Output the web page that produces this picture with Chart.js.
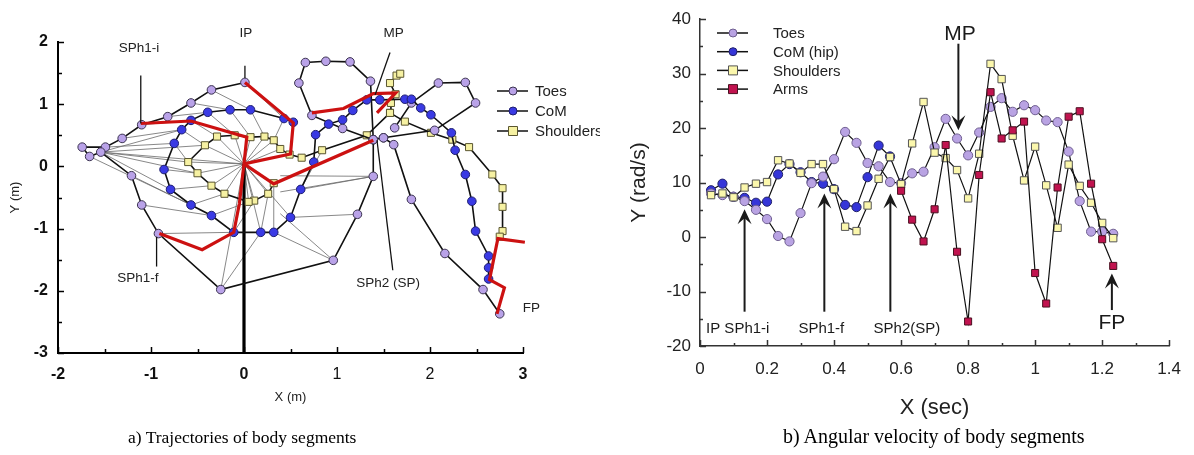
<!DOCTYPE html>
<html>
<head>
<meta charset="utf-8">
<script src="https://cdn.jsdelivr.net/npm/chart.js@4"></script>
<style>
  body { margin: 0; background: #fff; width: 1194px; height: 455px; position: relative; overflow: hidden; }
  #trajChart { position: absolute; left: 0; top: 0; }
  #velChart { position: absolute; left: 600px; top: 0; }
  .caption { position: absolute; font-family: "Liberation Serif", "Times New Roman", serif; color: #000; white-space: nowrap; }
</style>
</head>
<body>
<canvas id="trajChart" width="600" height="455"></canvas>
<canvas id="velChart" width="594" height="455"></canvas>
<div class="caption" style="left:128px; top:427px; font-size:17.5px">a) Trajectories of body segments</div>
<div class="caption" style="left:783px; top:425px; font-size:20px">b) Angular velocity of body segments</div>
<script>
// ---------- panel a: trajectories, [x, y] in m ----------
const toesPath1 = [[0.01,1.35],[-0.35,1.23],[-0.57,1.02],[-0.82,0.80],[-1.10,0.67],[-1.31,0.45],[-1.49,0.31],[-1.74,0.31],[-1.66,0.16],[-1.54,0.23],[-1.21,-0.15],[-1.10,-0.62],[-0.92,-1.08],[-0.25,-1.98],[0.96,-1.51],[1.22,-0.77],[1.39,-0.16],[1.39,0.43]];
const toesPath2 = [[1.39,0.43],[1.36,1.37],[1.14,1.68],[0.88,1.69],[0.66,1.67],[0.59,1.34],[0.73,0.82],[1.06,0.61],[1.39,0.43],[1.50,0.46],[1.61,0.35],[1.80,-0.53],[2.16,-1.40],[2.57,-1.98],[2.75,-2.37]];
const toesPath3 = [[1.50,0.46],[2.05,0.58],[2.49,1.02],[2.38,1.35],[2.09,1.34],[1.80,1.02],[1.62,0.62]];
const comPath = [[0.53,0.71],[0.43,0.77],[0.07,0.91],[-0.15,0.91],[-0.39,0.87],[-0.57,0.74],[-0.67,0.59],[-0.75,0.37],[-0.86,-0.05],[-0.79,-0.37],[-0.57,-0.62],[-0.35,-0.79],[-0.11,-1.06],[0.18,-1.06],[0.32,-1.06],[0.50,-0.82],[0.61,-0.37],[0.75,0.07],[0.77,0.51],[0.91,0.68],[1.06,0.75],[1.17,0.90],[1.32,1.07],[1.46,1.07],[1.73,1.08],[1.80,1.08],[1.90,0.94],[2.01,0.83],[2.23,0.54],[2.27,0.26],[2.38,-0.13],[2.45,-0.56],[2.49,-1.04],[2.63,-1.44],[2.63,-1.63],[2.63,-1.81]];
const shoulderPath1 = [[0.32,-0.27],[0.26,-0.44],[0.11,-0.55],[0.05,-0.57],[-0.21,-0.44],[-0.35,-0.31],[-0.50,-0.11],[-0.60,0.07],[-0.42,0.34],[-0.29,0.48],[-0.10,0.50],[0.07,0.47],[0.22,0.48],[0.32,0.42],[0.39,0.28],[0.49,0.19],[0.62,0.14],[0.84,0.26],[1.32,0.50],[1.57,0.86],[1.58,1.02],[1.63,1.16],[1.57,1.34],[1.64,1.46],[1.68,1.49]];
const shoulderPath2 = [[1.57,0.86],[1.73,0.72],[2.01,0.54],[2.24,0.43],[2.42,0.31],[2.67,-0.13],[2.78,-0.35],[2.78,-0.65],[2.78,-1.04],[2.75,-1.13]];
// highlighted body poses (red)
const poses = [
  [[-1.11,0.69],[-0.57,0.73],[0.03,0.47],[0.0,0.04]],
  [[-0.91,-1.08],[-0.45,-1.34],[-0.11,-1.06],[-0.05,-0.6],[0.0,0.04]],
  [[0.01,1.35],[0.53,0.70],[0.50,0.20],[0.0,0.04]],
  [[0.0,0.04],[0.32,-0.28],[1.39,0.42]],
  [[0.73,0.86],[1.07,0.93],[1.39,1.17],[1.63,1.18],[1.43,0.86]],
  [[3.02,-1.22],[2.73,-1.16],[2.64,-1.82],[2.80,-1.95],[2.72,-2.37]]
];
const pivotLine = [[0.0,0.04],[0.0,-3.0]];
// thin segment links between segments of the same frame [x1, y1, x2, y2]
const links = [
  [0.01,1.35,0.43,0.77],[-0.35,1.23,0.07,0.91],[-0.57,1.02,-0.15,0.91],[-0.82,0.80,-0.39,0.87],
  [-1.10,0.67,-0.57,0.74],[-1.31,0.45,-0.67,0.59],[-1.49,0.31,-0.75,0.37],[-1.21,-0.15,-0.57,-0.62],
  [-1.10,-0.62,-0.35,-0.79],[-0.92,-1.08,-0.11,-1.06],[-0.25,-1.98,0.18,-1.06],[0.96,-1.51,0.32,-1.06],
  [1.22,-0.77,0.50,-0.82],[1.39,-0.16,0.61,-0.37],
  [0.43,0.77,0.32,0.42],[0.07,0.91,0.22,0.48],[-0.15,0.91,0.07,0.47],[-0.39,0.87,-0.10,0.50],
  [-0.57,0.74,-0.29,0.48],[-0.67,0.59,-0.42,0.34],[-0.75,0.37,-0.60,0.07],[-0.86,-0.05,-0.50,-0.11],
  [-0.79,-0.37,-0.35,-0.31],[-0.57,-0.62,-0.21,-0.44],[-0.35,-0.79,0.05,-0.57],[-0.11,-1.06,0.11,-0.55],
  [0.18,-1.06,0.26,-0.44],[0.32,-1.06,0.32,-0.27],[0.61,-0.37,0.84,0.26],
  [0,0.04,-0.29,0.48],[0,0.04,-0.10,0.50],[0,0.04,0.07,0.47],[0,0.04,0.22,0.48],[0,0.04,0.32,0.42],
  [0,0.04,0.39,0.28],[0,0.04,-0.42,0.34],[0,0.04,-0.60,0.07],[0,0.04,-0.50,-0.11],[0,0.04,-0.35,-0.31],
  [0,0.04,-0.21,-0.44],[0,0.04,0.05,-0.57],[0,0.04,0.11,-0.55],[0,0.04,0.26,-0.44],[0,0.04,0.18,-1.06],
  [0,0.04,0.50,-0.82],[0,0.04,-0.25,-1.98],[0,0.04,-1.54,0.23],
  [-1.54,0.23,-0.42,0.34],[-1.54,0.23,-0.60,0.07],[-1.54,0.23,-0.50,-0.11],[-1.54,0.23,-0.79,-0.37],
  [-1.66,0.16,-0.57,-0.62],[-1.54,0.23,-0.67,0.59],
  [0.39,-0.41,1.39,-0.16],[0.39,-0.76,0.96,-1.51],[0.39,-0.15,1.39,-0.16]
];
const trajLabels = [
  { text: 'IP', x: 0.02, y: 2.14, line: [0.01,1.62,0.01,1.42] },
  { text: 'SPh1-i', x: -1.13, y: 1.90, line: [-1.11,1.46,-1.11,0.69] },
  { text: 'MP', x: 1.61, y: 2.14, line: [1.57,1.83,1.41,1.15] },
  { text: 'SPh2 (SP)', x: 1.55, y: -1.88, line: [1.60,-1.67,1.43,0.42] },
  { text: 'SPh1-f', x: -1.14, y: -1.80, line: [-0.94,-1.61,-0.94,-1.13] },
  { text: 'FP', x: 3.09, y: -2.28, line: null }
];

// ---------- panel b: angular velocity ----------
const times = [0.033,0.067,0.1,0.133,0.167,0.2,0.233,0.267,0.3,0.333,0.367,0.4,0.433,0.467,0.5,0.533,0.567,0.6,0.633,0.667,0.7,0.733,0.767,0.8,0.833,0.867,0.9,0.933,0.967,1.0,1.033,1.067,1.1,1.133,1.167,1.2,1.233];
const toesW = [8.0,7.7,7.4,6.6,5.0,3.3,0.2,-0.8,4.4,9.9,11.1,14.3,19.3,17.3,13.6,13.0,10.1,9.9,11.7,12.0,16.5,21.7,18.1,15.0,19.2,23.9,25.5,23.0,24.2,23.3,21.4,21.1,15.7,6.6,1.0,1.0,0.6];
const comW = [8.6,9.8,7.4,7.2,6.3,6.5,11.5,13.4,11.9,10.1,9.8,8.8,5.9,5.5,11.0,16.8,14.8,null,null,null,null,null,null,null,null,null,null,null,null,null,null,null,null,null,null,null,null];
const shouldersW = [7.7,8.0,7.3,9.1,9.8,10.1,14.1,13.5,11.8,13.4,13.4,8.8,1.9,1.1,5.8,10.7,14.7,9.7,17.2,24.8,15.5,14.5,12.3,7.1,15.3,31.8,29.0,18.6,10.4,16.6,9.5,1.7,13.3,9.4,6.3,2.6,-0.2];
const armsW = [null,null,null,null,null,null,null,null,null,null,null,null,null,null,null,null,null,8.5,3.2,-0.8,5.1,16.9,-2.7,-15.5,11.4,26.6,18.1,19.6,21.2,-6.6,-12.2,9.1,22.1,23.1,9.8,-0.4,-5.3];
const events = [
  { text: 'IP SPh1-i', t: 0.133, labelT: 0.018, align: 'left', up: true },
  { text: 'SPh1-f', t: 0.371, labelT: 0.362, align: 'center', up: true },
  { text: 'SPh2(SP)', t: 0.568, labelT: 0.518, align: 'left', up: true }
];

const FONT = '"Liberation Sans", Arial, sans-serif';
const toPts = arr => arr.map(p => ({ x: p[0], y: p[1] }));

const toesStyle = { pointStyle: 'circle', pointRadius: 4.3, pointBackgroundColor: '#b9a2e8', pointBorderColor: '#3b3350', pointBorderWidth: 1 };
const comStyle = { pointStyle: 'circle', pointRadius: 4.3, pointBackgroundColor: '#3a3ae4', pointBorderColor: '#1e1e70', pointBorderWidth: 1 };
const shoulderStyle = { pointStyle: 'rect', pointRadius: 5, pointBackgroundColor: '#f6f1a2', pointBorderColor: '#5a5630', pointBorderWidth: 1 };

function tickMarks(chart, majX, majY, lenMaj, lenMin, color, width) {
  const { ctx, chartArea: a, scales: { x, y } } = chart;
  ctx.save();
  ctx.strokeStyle = color;
  ctx.lineWidth = width;
  x.ticks.forEach(t => {
    const px = Math.round(x.getPixelForValue(t.value)) + 0.5;
    const len = majX(t.value) ? lenMaj : lenMin;
    ctx.beginPath(); ctx.moveTo(px, a.bottom); ctx.lineTo(px, a.bottom - len); ctx.stroke();
  });
  y.ticks.forEach(t => {
    const py = Math.round(y.getPixelForValue(t.value)) + 0.5;
    const len = majY(t.value) ? lenMaj : lenMin;
    ctx.beginPath(); ctx.moveTo(a.left, py); ctx.lineTo(a.left + len, py); ctx.stroke();
  });
  ctx.restore();
}

function drawLegend(ctx, items, x0, y0, dy, textX, fontSize) {
  ctx.save();
  items.forEach((it, i) => {
    const y = y0 + i * dy;
    ctx.strokeStyle = '#111'; ctx.lineWidth = 1.5;
    ctx.beginPath(); ctx.moveTo(x0, y); ctx.lineTo(x0 + 31, y); ctx.stroke();
    ctx.fillStyle = it.fill; ctx.strokeStyle = it.stroke; ctx.lineWidth = 1;
    ctx.beginPath();
    if (it.square) ctx.rect(x0 + 16 - it.size, y - it.size, it.size * 2, it.size * 2);
    else ctx.arc(x0 + 16, y, it.size, 0, Math.PI * 2);
    ctx.fill(); ctx.stroke();
    ctx.fillStyle = '#222'; ctx.font = fontSize + 'px ' + FONT;
    ctx.textBaseline = 'middle'; ctx.textAlign = 'left';
    ctx.fillText(it.label, textX, y + 1);
  });
  ctx.restore();
}

const isInt = v => Math.abs(v - Math.round(v)) < 1e-6;

// ---------------- chart a ----------------
const linkData = [];
links.forEach(s => { linkData.push({ x: s[0], y: s[1] }, { x: s[2], y: s[3] }, { x: null, y: null }); });

const trajDatasets = [
  { data: linkData, showLine: true, borderColor: '#6a6a6a', borderWidth: 0.8, pointRadius: 0, spanGaps: false, order: 6 },
  { data: toPts(pivotLine), showLine: true, borderColor: '#000', borderWidth: 3.2, pointRadius: 0, order: 5 },
  ...[toesPath1, toesPath2, toesPath3].map(p => ({ label: 'Toes', data: toPts(p), showLine: true, borderColor: '#111', borderWidth: 1.6, order: 3, ...toesStyle })),
  { label: 'CoM', data: toPts(comPath), showLine: true, borderColor: '#111', borderWidth: 1.6, order: 2, ...comStyle },
  ...[shoulderPath1, shoulderPath2].map(p => ({ label: 'Shoulders', data: toPts(p), showLine: true, borderColor: '#111', borderWidth: 1.6, order: 4, ...shoulderStyle })),
  ...poses.map(p => ({ data: toPts(p), showLine: true, borderColor: '#cc1111', borderWidth: 3.2, pointRadius: 0, order: 0, clip: false }))
];

const trajPlugin = {
  id: 'trajExtras',
  afterDraw(chart) {
    const { ctx, scales: { x, y } } = chart;
    tickMarks(chart, isInt, isInt, 6, 4, '#000', 1.5);
    ctx.save();
    ctx.fillStyle = '#222'; ctx.strokeStyle = '#111'; ctx.lineWidth = 1.3;
    ctx.font = '13.5px ' + FONT; ctx.textBaseline = 'middle';
    trajLabels.forEach(l => {
      ctx.textAlign = 'center';
      ctx.fillText(l.text, x.getPixelForValue(l.x), y.getPixelForValue(l.y));
      if (l.line) {
        ctx.beginPath();
        ctx.moveTo(x.getPixelForValue(l.line[0]), y.getPixelForValue(l.line[1]));
        ctx.lineTo(x.getPixelForValue(l.line[2]), y.getPixelForValue(l.line[3]));
        ctx.stroke();
      }
    });
    ctx.restore();
    drawLegend(ctx, [
      { label: 'Toes', fill: '#b9a2e8', stroke: '#3b3350', size: 4 },
      { label: 'CoM', fill: '#3a3ae4', stroke: '#1e1e70', size: 4 },
      { label: 'Shoulders', fill: '#f6f1a2', stroke: '#5a5630', size: 4.5, square: true }
    ], 497, 91, 20, 535, 15);
  }
};

new Chart(document.getElementById('trajChart'), {
  type: 'scatter',
  data: { datasets: trajDatasets },
  options: {
    responsive: false,
    animation: false,
    layout: { padding: { left: 4, top: 42, right: 77, bottom: 46 } },
    plugins: { legend: { display: false }, tooltip: { enabled: false } },
    scales: {
      x: {
        type: 'linear', min: -2, max: 3,
        grid: { display: false, drawTicks: false },
        border: { display: true, color: '#000', width: 2 },
        ticks: {
          stepSize: 0.5, autoSkip: false, padding: 12, color: '#111',
          font: c => ({ family: FONT, size: 16, weight: (c.tick && (c.tick.value === 1 || c.tick.value === 2)) ? 'normal' : 'bold' }),
          callback: v => isInt(v) ? String(Math.round(v)) : ''
        },
        title: { display: true, text: 'X (m)', color: '#222', font: { family: FONT, size: 13 } },
        afterFit: s => { s.height = 56; }
      },
      y: {
        type: 'linear', min: -3, max: 2,
        grid: { display: false, drawTicks: false },
        border: { display: true, color: '#000', width: 2 },
        ticks: {
          stepSize: 0.5, autoSkip: false, padding: 10, color: '#111',
          font: { family: FONT, size: 16, weight: 'bold' },
          callback: v => isInt(v) ? String(Math.round(v)) : ''
        },
        title: { display: true, text: 'Y (m)', color: '#222', font: { family: FONT, size: 13 } },
        afterFit: s => { s.width = 54; }
      }
    }
  },
  plugins: [trajPlugin]
});

// ---------------- chart b ----------------
const series = (vals) => times.map((t, i) => ({ x: t, y: vals[i] }));
const velDatasets = [
  { label: 'Toes', data: series(toesW), borderColor: '#111', borderWidth: 1.2, order: 2, pointStyle: 'circle', pointRadius: 4.6, pointBackgroundColor: '#b9a3e3', pointBorderColor: '#6f5f90', pointBorderWidth: 1 },
  { label: 'CoM (hip)', data: series(comW), borderColor: '#111', borderWidth: 1.2, order: 3, pointStyle: 'circle', pointRadius: 4.6, pointBackgroundColor: '#3535d8', pointBorderColor: '#22226a', pointBorderWidth: 1 },
  { label: 'Shoulders', data: series(shouldersW), borderColor: '#111', borderWidth: 1.2, order: 1, pointStyle: 'rect', pointRadius: 5.2, pointBackgroundColor: '#fbf7ac', pointBorderColor: '#555', pointBorderWidth: 1 },
  { label: 'Arms', data: series(armsW), borderColor: '#111', borderWidth: 1.2, order: 0, pointStyle: 'rect', pointRadius: 5, pointBackgroundColor: '#c1134f', pointBorderColor: '#4a1020', pointBorderWidth: 1 }
];

function vArrow(ctx, x, yTail, yTip) {
  const dir = yTip < yTail ? 1 : -1;
  ctx.beginPath(); ctx.moveTo(x, yTail); ctx.lineTo(x, yTip + dir * 6); ctx.stroke();
  ctx.beginPath();
  ctx.moveTo(x, yTip);
  ctx.lineTo(x - 7, yTip + dir * 15);
  ctx.lineTo(x, yTip + dir * 9);
  ctx.lineTo(x + 7, yTip + dir * 15);
  ctx.closePath(); ctx.fill();
}

const velPlugin = {
  id: 'velExtras',
  afterDraw(chart) {
    const { ctx, scales: { x, y } } = chart;
    tickMarks(chart, v => isInt(Math.round(v * 10) / 2), v => Math.abs(v % 10) < 1e-6, 6, 3, '#333', 1.5);
    ctx.save();
    ctx.fillStyle = '#1a1a1a'; ctx.strokeStyle = '#1a1a1a'; ctx.lineWidth = 2;
    events.forEach(e => {
      vArrow(ctx, x.getPixelForValue(e.t), y.getPixelForValue(-13.7), y.getPixelForValue(e.t < 0.2 ? 5.1 : 8.0));
      ctx.font = '15px ' + FONT; ctx.textAlign = e.align; ctx.textBaseline = 'middle';
      ctx.fillText(e.text, x.getPixelForValue(e.labelT), y.getPixelForValue(-16.8));
    });
    // MP (down arrow) and FP (up arrow)
    vArrow(ctx, x.getPixelForValue(0.771), y.getPixelForValue(35.5), y.getPixelForValue(19.6));
    vArrow(ctx, x.getPixelForValue(1.229), y.getPixelForValue(-13.4), y.getPixelForValue(-6.7));
    ctx.font = '21px ' + FONT; ctx.textAlign = 'center'; ctx.textBaseline = 'middle';
    ctx.fillText('MP', x.getPixelForValue(0.776), y.getPixelForValue(37.3));
    ctx.fillText('FP', x.getPixelForValue(1.229), y.getPixelForValue(-15.9));
    ctx.restore();
    drawLegend(ctx, [
      { label: 'Toes', fill: '#b9a3e3', stroke: '#6f5f90', size: 4 },
      { label: 'CoM (hip)', fill: '#3535d8', stroke: '#22226a', size: 4 },
      { label: 'Shoulders', fill: '#fbf7ac', stroke: '#555', size: 4.5, square: true },
      { label: 'Arms', fill: '#c1134f', stroke: '#4a1020', size: 4.5, square: true }
    ], 117, 33, 18.7, 173, 15);
  }
};

new Chart(document.getElementById('velChart'), {
  type: 'line',
  data: { datasets: velDatasets },
  options: {
    responsive: false,
    animation: false,
    spanGaps: false,
    layout: { padding: { left: 23, top: 15, right: 19, bottom: 30 } },
    plugins: { legend: { display: false }, tooltip: { enabled: false } },
    scales: {
      x: {
        type: 'linear', min: 0, max: 1.4,
        grid: { display: false, drawTicks: false },
        border: { display: true, color: '#333', width: 1.5 },
        ticks: {
          stepSize: 0.1, autoSkip: false, padding: 13, color: '#222', maxRotation: 0,
          font: { family: FONT, size: 17 },
          callback: v => {
            const k = Math.round(v * 10);
            return k % 2 === 0 ? String(k / 10) : '';
          }
        },
        title: { display: true, text: 'X (sec)', color: '#222', font: { family: FONT, size: 22 } },
        afterFit: s => { s.height = 79; }
      },
      y: {
        type: 'linear', min: -20, max: 40,
        grid: { display: false, drawTicks: false },
        border: { display: true, color: '#333', width: 1.5 },
        ticks: {
          stepSize: 5, autoSkip: false, padding: 9, color: '#222',
          font: { family: FONT, size: 17 },
          callback: v => (Math.abs(v % 10) < 1e-6 ? String(v) : '')
        },
        title: { display: true, text: 'Y (rad/s)', color: '#222', font: { family: FONT, size: 21 } },
        afterFit: s => { s.width = 77; }
      }
    }
  },
  plugins: [velPlugin]
});
</script>
</body>
</html>
